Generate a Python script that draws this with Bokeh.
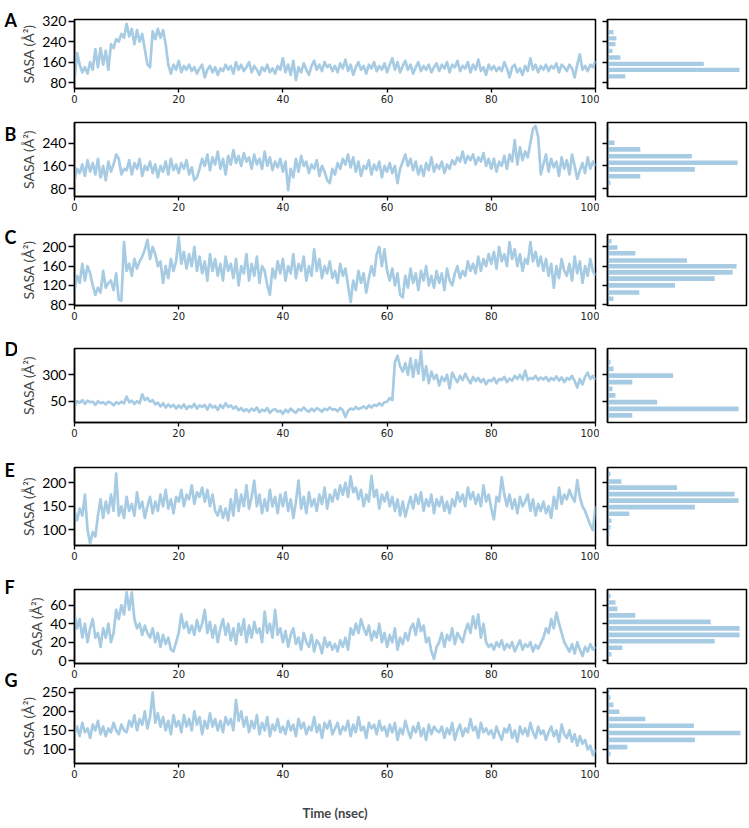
from bokeh.plotting import figure
from bokeh.layouts import column, row
from bokeh.models import Range1d, FixedTicker
from bokeh.core.properties import value
from bokeh.embed import file_html
from bokeh.resources import INLINE

# ---------------- data (SASA in A^2, sampled every 0.5 ns) ----------------
step_ns = 0.5
x_ticks = [0, 20, 40, 60, 80, 100]
panel_letters = ["A", "B", "C", "D", "E", "F", "G"]

a_00 = [90, 195, 150, 120, 140, 115, 160, 130, 210, 140, 215, 150, 205, 130, 230, 215, 250, 240, 270, 255]
a_10 = [310, 260, 290, 230, 285, 240, 270, 210, 150, 140, 280, 250, 290, 255, 285, 230, 150, 115, 150, 130]
a_20 = [165, 120, 145, 130, 150, 125, 140, 115, 135, 150, 100, 130, 145, 120, 140, 110, 135, 125, 150, 130]
a_30 = [145, 115, 160, 130, 150, 125, 140, 160, 120, 145, 130, 110, 140, 125, 150, 120, 135, 115, 145, 130]
a_40 = [175, 120, 150, 110, 165, 90, 140, 120, 155, 130, 110, 145, 165, 130, 150, 125, 160, 140, 150, 125]
a_50 = [145, 120, 155, 135, 170, 125, 150, 110, 140, 160, 130, 145, 115, 150, 135, 160, 125, 145, 130, 155]
a_60 = [120, 150, 175, 130, 160, 120, 145, 165, 130, 150, 115, 140, 160, 125, 145, 130, 150, 120, 140, 155]
a_70 = [125, 150, 135, 160, 120, 150, 140, 165, 125, 145, 135, 160, 120, 150, 130, 170, 125, 140, 110, 150]
a_80 = [130, 145, 125, 140, 125, 160, 135, 100, 140, 150, 120, 135, 110, 145, 125, 175, 130, 150, 120, 145]
a_90 = [130, 150, 125, 145, 135, 155, 120, 150, 140, 125, 150, 135, 100, 150, 190, 130, 145, 125, 150, 140, 165]
sasa_a = a_00 + a_10 + a_20 + a_30 + a_40 + a_50 + a_60 + a_70 + a_80 + a_90

b_00 = [110, 150, 135, 165, 125, 180, 140, 170, 130, 185, 120, 160, 110, 175, 140, 165, 200, 185, 130, 150]
b_10 = [145, 180, 130, 170, 150, 185, 125, 160, 145, 175, 135, 165, 120, 160, 140, 175, 130, 185, 145, 165]
b_20 = [135, 170, 150, 180, 130, 155, 110, 120, 150, 185, 160, 200, 145, 190, 165, 210, 150, 185, 130, 195]
b_30 = [165, 215, 170, 195, 160, 205, 175, 190, 150, 200, 165, 185, 150, 210, 160, 190, 145, 175, 155, 185]
b_40 = [140, 175, 75, 150, 120, 185, 140, 195, 160, 175, 135, 165, 150, 180, 125, 160, 140, 110, 100, 150]
b_50 = [130, 170, 150, 185, 165, 200, 155, 190, 140, 175, 125, 160, 150, 180, 130, 165, 145, 175, 120, 160]
b_60 = [140, 170, 135, 160, 100, 150, 175, 200, 160, 185, 145, 175, 130, 160, 125, 170, 145, 190, 140, 165]
b_70 = [150, 175, 135, 165, 150, 180, 165, 190, 175, 210, 170, 195, 180, 200, 165, 190, 175, 205, 160, 185]
b_80 = [150, 185, 140, 175, 160, 195, 150, 200, 175, 250, 165, 225, 180, 210, 190, 240, 290, 300, 260, 130]
b_90 = [165, 200, 140, 185, 155, 175, 125, 190, 150, 180, 130, 200, 160, 115, 145, 170, 135, 190, 150, 175, 160]
sasa_b = b_00 + b_10 + b_20 + b_30 + b_40 + b_50 + b_60 + b_70 + b_80 + b_90

c_00 = [110, 140, 125, 165, 130, 160, 145, 120, 100, 115, 105, 150, 115, 125, 130, 110, 145, 90, 88, 210]
c_10 = [150, 165, 140, 175, 155, 170, 180, 195, 215, 175, 200, 185, 160, 170, 125, 160, 135, 175, 150, 170]
c_20 = [220, 165, 190, 155, 185, 160, 200, 150, 180, 145, 170, 130, 185, 150, 175, 140, 165, 130, 180, 150]
c_30 = [165, 135, 175, 120, 160, 145, 185, 130, 165, 140, 180, 125, 160, 150, 120, 100, 155, 135, 170, 145]
c_40 = [175, 130, 160, 145, 185, 135, 165, 150, 180, 130, 160, 140, 195, 150, 175, 135, 160, 145, 170, 135]
c_50 = [150, 125, 165, 140, 155, 120, 85, 130, 110, 150, 125, 145, 105, 135, 160, 140, 185, 200, 160, 195]
c_60 = [150, 130, 155, 120, 145, 100, 95, 140, 115, 155, 125, 145, 110, 150, 130, 160, 120, 140, 115, 150]
c_70 = [125, 145, 110, 155, 130, 120, 145, 160, 135, 150, 140, 170, 150, 165, 145, 180, 150, 175, 160, 185]
c_80 = [165, 190, 155, 200, 170, 185, 160, 210, 175, 195, 160, 185, 150, 175, 165, 210, 170, 190, 160, 180]
c_90 = [150, 175, 140, 165, 115, 160, 135, 175, 150, 140, 165, 130, 180, 145, 170, 125, 160, 140, 175, 150, 140]
sasa_c = c_00 + c_10 + c_20 + c_30 + c_40 + c_50 + c_60 + c_70 + c_80 + c_90

d_00 = [0, 50, 35, 60, 25, 55, 40, 45, 15, 50, 30, 40, 20, 45, 35, 10, 40, 25, 45, 30]
d_10 = [93, 40, 55, 25, 50, 30, 115, 60, 80, 45, 60, 20, 35, 0, 30, -10, 20, -5, 15, -20]
d_20 = [10, -15, 20, -25, 5, -10, 25, -20, 10, -5, 15, -30, 20, -10, 5, -35, 15, -15, 30, -5]
d_30 = [10, -20, 0, -35, -15, -45, -25, -50, -20, -40, -10, -55, -30, -45, -15, -60, -35, -25, -50, -40]
d_40 = [-70, -30, -55, -20, -45, -60, -25, -40, -10, -35, -50, -20, -45, -15, -30, -50, -20, -35, -10, -30]
d_50 = [-25, -45, -15, -35, -100, -40, -20, -30, -5, -25, -15, 0, -20, 10, -10, 15, 5, 30, 10, 40]
d_60 = [45, 80, 60, 420, 480, 380, 330, 410, 300, 455, 280, 440, 310, 521, 250, 380, 220, 330, 260, 300]
d_70 = [200, 280, 240, 300, 170, 320, 270, 230, 290, 250, 310, 260, 220, 280, 240, 270, 230, 260, 210, 250]
d_80 = [240, 270, 220, 260, 250, 280, 230, 265, 245, 290, 260, 300, 255, 340, 250, 270, 260, 290, 250, 275]
d_90 = [255, 280, 240, 270, 250, 285, 245, 275, 230, 270, 255, 290, 240, 180, 260, 210, 280, 320, 260, 290, 250]
sasa_d = d_00 + d_10 + d_20 + d_30 + d_40 + d_50 + d_60 + d_70 + d_80 + d_90

e_00 = [140, 120, 145, 130, 175, 100, 70, 95, 85, 130, 165, 125, 160, 135, 175, 140, 220, 130, 150, 125]
e_10 = [170, 140, 155, 130, 180, 145, 160, 125, 150, 170, 135, 160, 140, 175, 150, 185, 145, 165, 135, 170]
e_20 = [160, 185, 150, 175, 165, 195, 155, 180, 170, 190, 160, 185, 150, 175, 140, 130, 150, 125, 145, 120]
e_30 = [165, 130, 185, 140, 175, 150, 195, 145, 170, 205, 150, 175, 135, 165, 140, 185, 150, 170, 135, 175]
e_40 = [150, 180, 140, 165, 125, 160, 205, 145, 170, 135, 180, 150, 165, 140, 175, 155, 190, 145, 175, 160]
e_50 = [185, 165, 195, 175, 200, 170, 214, 180, 190, 165, 185, 150, 175, 160, 215, 170, 185, 145, 175, 160]
e_60 = [180, 150, 170, 140, 165, 130, 160, 128, 150, 170, 145, 175, 155, 180, 140, 165, 150, 175, 135, 165]
e_70 = [150, 170, 140, 160, 135, 165, 150, 180, 160, 175, 150, 190, 165, 180, 155, 175, 150, 195, 160, 175]
e_80 = [145, 122, 170, 160, 212, 175, 150, 175, 145, 165, 135, 170, 150, 160, 175, 140, 165, 130, 155, 140]
e_90 = [160, 135, 150, 125, 170, 145, 190, 155, 175, 165, 185, 170, 160, 206, 170, 150, 140, 125, 110, 99, 150]
sasa_e = e_00 + e_10 + e_20 + e_30 + e_40 + e_50 + e_60 + e_70 + e_80 + e_90

f_00 = [50, 35, 45, 25, 40, 20, 35, 45, 25, 30, 15, 35, 25, 40, 20, 30, 55, 45, 60, 50]
f_10 = [74, 55, 74, 45, 35, 40, 28, 38, 30, 25, 35, 20, 30, 15, 28, 18, 25, 12, 10, 20]
f_20 = [30, 50, 35, 42, 30, 38, 28, 44, 32, 40, 55, 30, 42, 25, 38, 20, 35, 45, 28, 40]
f_30 = [22, 35, 18, 40, 28, 45, 20, 38, 25, 42, 30, 35, 20, 53, 30, 40, 25, 55, 28, 35]
f_40 = [20, 32, 15, 28, 35, 18, 25, 12, 30, 20, 15, 28, 10, 22, 18, 8, 25, 15, 20, 12]
f_50 = [18, 10, 22, 15, 25, 12, 35, 28, 40, 30, 45, 35, 28, 38, 22, 32, 25, 40, 20, 30]
f_60 = [15, 28, 20, 35, 12, 25, 18, 30, 22, 35, 40, 28, 45, 32, 38, 20, 25, 10, 2, 15]
f_70 = [20, 30, 15, 28, 22, 35, 18, 30, 25, 20, 32, 40, 30, 48, 35, 50, 25, 40, 20, 15]
f_80 = [18, 12, 20, 15, 22, 12, 18, 14, 20, 10, 16, 22, 12, 18, 15, 20, 10, 17, 13, 19]
f_90 = [25, 35, 30, 45, 35, 52, 40, 30, 20, 15, 10, 18, 8, 20, 12, 5, 15, 10, 18, 12, 15]
sasa_f = f_00 + f_10 + f_20 + f_30 + f_40 + f_50 + f_60 + f_70 + f_80 + f_90

g_00 = [140, 160, 135, 170, 145, 155, 130, 165, 150, 175, 140, 160, 135, 155, 145, 170, 150, 140, 165, 150]
g_10 = [145, 175, 160, 190, 150, 180, 165, 200, 155, 185, 250, 170, 195, 160, 185, 150, 175, 140, 190, 160]
g_20 = [175, 145, 190, 160, 180, 150, 200, 165, 185, 140, 175, 155, 195, 160, 180, 150, 175, 145, 185, 165]
g_30 = [180, 150, 230, 175, 200, 160, 185, 145, 175, 155, 190, 140, 170, 150, 185, 135, 165, 150, 180, 145]
g_40 = [160, 140, 175, 150, 165, 135, 180, 155, 170, 140, 160, 150, 185, 145, 165, 130, 170, 155, 175, 140]
g_50 = [155, 170, 140, 160, 150, 175, 135, 165, 145, 185, 150, 160, 130, 170, 155, 165, 140, 175, 150, 160]
g_60 = [135, 165, 145, 170, 125, 155, 140, 175, 150, 130, 160, 145, 170, 135, 155, 125, 165, 140, 160, 150]
g_70 = [145, 160, 130, 155, 140, 170, 125, 150, 165, 135, 155, 145, 180, 150, 160, 130, 170, 145, 155, 140]
g_80 = [150, 130, 160, 140, 125, 155, 145, 165, 130, 150, 120, 160, 140, 155, 135, 170, 145, 130, 160, 140]
g_90 = [150, 125, 145, 160, 135, 150, 120, 165, 140, 130, 150, 120, 140, 110, 135, 115, 125, 100, 110, 85, 100]
sasa_g = g_00 + g_10 + g_20 + g_30 + g_40 + g_50 + g_60 + g_70 + g_80 + g_90

# y tick values per panel
ticks_a = [80, 160, 240, 320]
ticks_b = [80, 160, 240]
ticks_c = [80, 120, 160, 200]
ticks_d = [50, 300]
ticks_e = [100, 150, 200]
ticks_f = [0, 20, 40, 60]
ticks_g = [100, 150, 200, 250]

# histograms (bin centre, count)
hist_a_bins = [104, 129.5, 153, 178, 204, 230, 253, 277.5]
hist_a_counts = [18, 133, 97, 13, 5, 8, 9, 6]
hist_b_bins = [101, 124, 148, 171, 194, 218, 241, 264, 288]
hist_b_counts = [3, 33, 88, 131, 85, 33, 7, 1, 2]
hist_c_bins = [92, 105, 120, 134, 147, 160, 172, 187, 199, 212]
hist_c_counts = [6, 32, 68, 108, 126, 130, 80, 28, 10, 4]
hist_d_bins = [-85, -22, 41, 104, 167, 230, 293, 357, 420]
hist_d_counts = [25, 132, 50, 8, 5, 25, 66, 6, 3]
hist_e_bins = [91, 105, 119, 134, 148, 162, 176, 190, 203, 219]
hist_e_counts = [2, 3, 4, 22, 88, 132, 128, 70, 14, 3]
hist_f_bins = [7, 14, 21, 28, 35, 42, 49, 56, 63, 70]
hist_f_counts = [4, 15, 108, 133, 133, 104, 28, 10, 8, 3]
hist_g_bins = [88, 106, 125, 143, 162, 180, 199, 217, 236, 254]
hist_g_counts = [3, 20, 88, 134, 87, 38, 12, 6, 3, 2]

# ---------------- layout / style ----------------
BLUE = "#a6cbe3"
LETTER_W = 17
panels = [
    # series, ticks, y-range, hist bins, hist counts, bar height, frame h, top, bottom, letter offset above frame
    (sasa_a, ticks_a, (56.7, 326.6), hist_a_bins, hist_a_counts, 17, 69, 19, 21, 11),
    (sasa_b, ticks_b, (53, 312), hist_b_bins, hist_b_counts, 16, 74, 13, 21, 0),
    (sasa_c, ticks_c, (78, 226), hist_c_bins, hist_c_counts, 9.5, 71, 17, 21, 9),
    (sasa_d, ticks_d, (-152, 549), hist_d_bins, hist_d_counts, 45, 74, 22, 21, 11),
    (sasa_e, ticks_e, (66, 233), hist_e_bins, hist_e_counts, 10, 78, 24, 21, 9),
    (sasa_f, ticks_f, (-3, 77), hist_f_bins, hist_f_counts, 5, 74, 23, 21, 14),
    (sasa_g, ticks_g, (63, 260), hist_g_bins, hist_g_counts, 12, 75, 4, 64, 20),
]

rows = []
letter_y = []
cum = 0
for i, (series, yt, yr, hb, hc, bh, fh, tb, bb, loff) in enumerate(panels):
    last = i == len(panels) - 1
    letter_y.append(cum + tb - loff)
    cum += tb + fh + bb
    t = [k * step_ns for k in range(len(series))]
    p = figure(frame_width=521, frame_height=fh, min_border_left=57, min_border_right=4,
               min_border_top=tb, min_border_bottom=bb,
               x_range=Range1d(0, 100), y_range=Range1d(*yr),
               output_backend="svg", toolbar_location=None)
    p.line(t, series, line_color=BLUE, line_width=2.7, line_join="round")
    p.xgrid.visible = False
    p.ygrid.visible = False
    p.outline_line_color = "black"
    p.outline_line_width = 1.5
    p.xaxis.ticker = FixedTicker(ticks=x_ticks)
    p.xaxis.major_label_text_font = "DejaVu Sans"
    p.xaxis.major_label_text_font_size = "10px"
    p.xaxis.major_label_text_color = "#222222"
    p.xaxis.major_label_standoff = 2
    p.xaxis.major_tick_out = 4
    p.xaxis.major_tick_in = 0
    p.yaxis.ticker = FixedTicker(ticks=yt)
    p.yaxis.major_label_text_font = "Lato"
    p.yaxis.major_label_text_font_size = "14px"
    p.yaxis.major_label_text_color = "black"
    p.yaxis.major_label_standoff = 2
    p.yaxis.major_tick_out = 6
    p.yaxis.major_tick_in = 0
    p.yaxis.axis_label = "SASA (Å²)"
    p.yaxis.axis_label_text_font = "Lato"
    p.yaxis.axis_label_text_font_size = "14px"
    p.yaxis.axis_label_text_font_style = "normal"
    p.yaxis.axis_label_standoff = 2
    for ax in (p.xaxis, p.yaxis):
        ax.axis_line_color = "black"
        ax.axis_line_width = 1.5
        ax.major_tick_line_color = "black"
        ax.major_tick_line_width = 1.3
        ax.minor_tick_line_color = None
    if last:
        p.xaxis.axis_label = "Time (nsec)"
        p.xaxis.axis_label_text_font = "Lato"
        p.xaxis.axis_label_text_font_size = "13px"
        p.xaxis.axis_label_text_font_style = "bold"
        p.xaxis.axis_label_standoff = 24

    h = figure(frame_width=139, frame_height=fh, min_border_left=8, min_border_right=2,
               min_border_top=tb, min_border_bottom=bb,
               x_range=Range1d(0, 140), y_range=Range1d(*yr), x_axis_location=None,
               output_backend="svg", toolbar_location=None)
    h.hbar(y=hb, right=hc, left=0, height=bh, fill_color=BLUE, line_color=None)
    h.xgrid.visible = False
    h.ygrid.visible = False
    h.outline_line_color = "black"
    h.outline_line_width = 1.5
    h.yaxis.ticker = FixedTicker(ticks=yt)
    h.yaxis.major_label_overrides = {tk: "" for tk in yt}
    h.yaxis.major_label_standoff = 0
    h.yaxis.major_tick_out = 5
    h.yaxis.major_tick_in = 0
    h.yaxis.major_tick_line_width = 1.3
    h.yaxis.minor_tick_line_color = None
    h.yaxis.axis_line_width = 1.5
    h.yaxis.axis_line_color = "black"
    rows.append(row(p, h))

# narrow strip holding the panel letters
total_h = cum
lf = figure(width=LETTER_W, height=total_h, x_range=Range1d(0, LETTER_W), y_range=Range1d(total_h, 0),
            min_border=0, x_axis_location=None, y_axis_location=None,
            output_backend="svg", toolbar_location=None)
lf.outline_line_color = None
lf.xgrid.visible = False
lf.ygrid.visible = False
lf.text(x=[4] * len(panel_letters), y=letter_y, text=panel_letters, text_baseline="top", text_align="left",
        text_font=value("Lato"), text_font_size="18px", text_font_style="bold", text_color="black")

layout = row(lf, column(*rows))
open("out.html", "w").write(file_html(layout, INLINE))
